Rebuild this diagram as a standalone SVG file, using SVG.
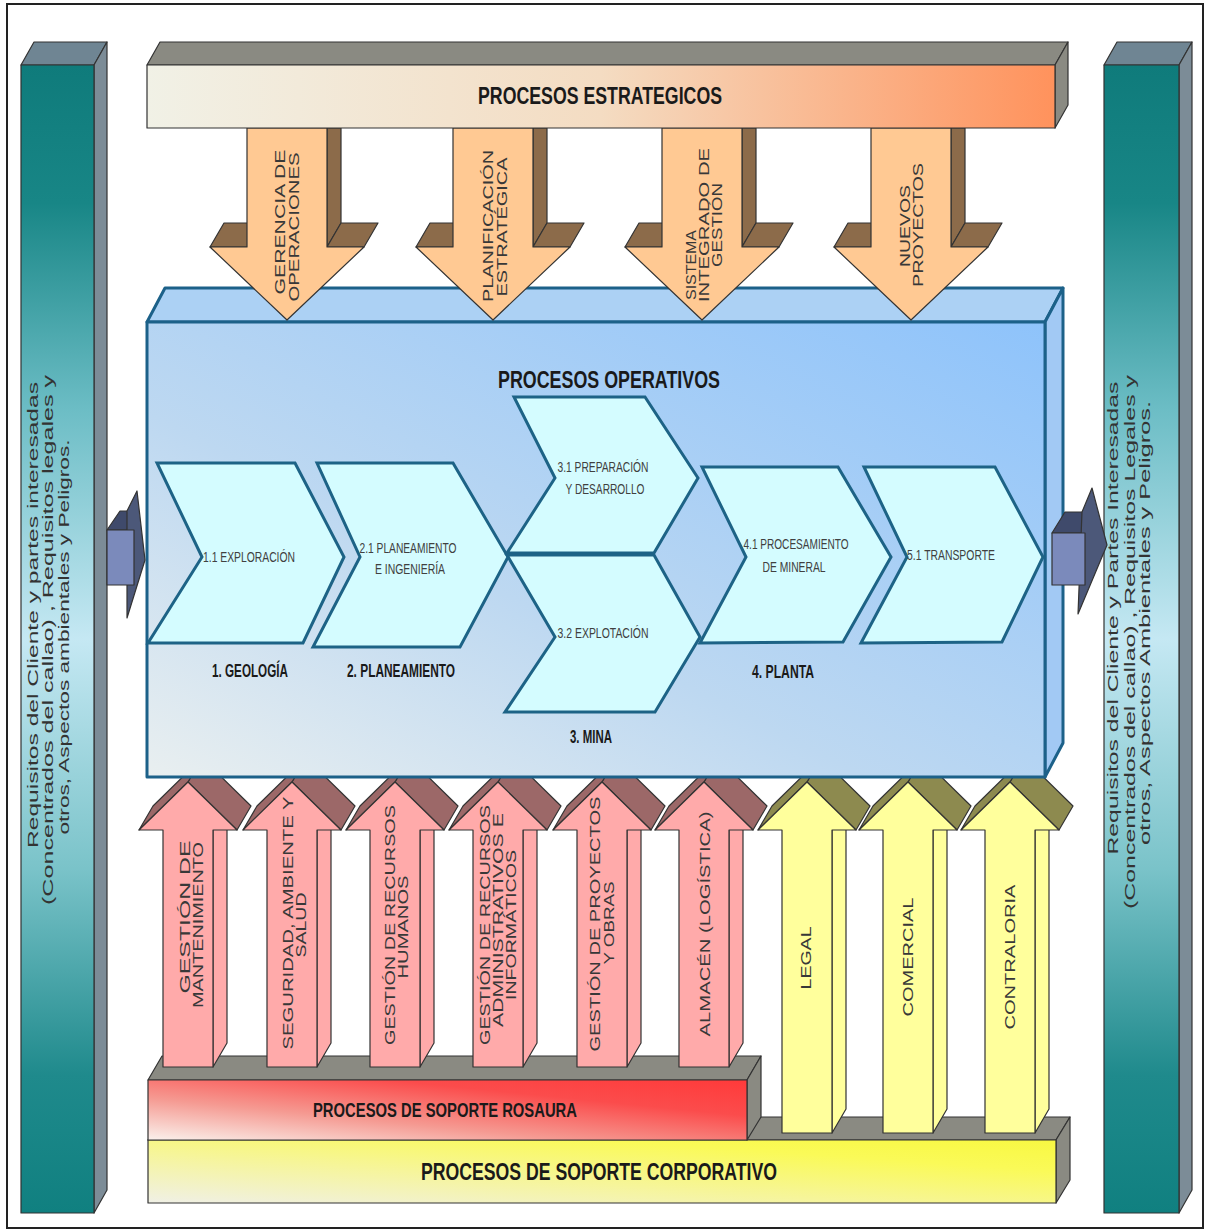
<svg xmlns="http://www.w3.org/2000/svg" width="1209" height="1232" viewBox="0 0 1209 1232">
<defs>
<linearGradient id="gTeal" x1="0" y1="0" x2="0" y2="1">
<stop offset="0" stop-color="#0f7b7b"/><stop offset="0.12" stop-color="#188686"/><stop offset="0.3" stop-color="#6cbdc5"/><stop offset="0.5" stop-color="#c5e8f3"/><stop offset="0.7" stop-color="#7ac3c9"/><stop offset="0.88" stop-color="#1f8a8c"/><stop offset="1" stop-color="#108080"/>
</linearGradient>
<linearGradient id="gTop" x1="0" y1="0" x2="1" y2="0">
<stop offset="0" stop-color="#f1f1e6"/><stop offset="0.5" stop-color="#f4dcc2"/><stop offset="1" stop-color="#ff925c"/>
</linearGradient>
<linearGradient id="gBox" x1="0" y1="1" x2="1" y2="0">
<stop offset="0" stop-color="#e9eff0"/><stop offset="0.4" stop-color="#bdd8f1"/><stop offset="1" stop-color="#8ec3fb"/>
</linearGradient>
<linearGradient id="gRosa" x1="0" y1="1" x2="1" y2="0">
<stop offset="0" stop-color="#faf1ec"/><stop offset="0.35" stop-color="#f59a92"/><stop offset="0.7" stop-color="#fb4c4c"/><stop offset="1" stop-color="#ff3a3a"/>
</linearGradient>
<linearGradient id="gCorp" x1="0" y1="1" x2="1" y2="0">
<stop offset="0" stop-color="#f0f0e6"/><stop offset="0.4" stop-color="#f6f59a"/><stop offset="0.75" stop-color="#fafa58"/><stop offset="1" stop-color="#f8f842"/>
</linearGradient>
<style>
.frame{fill:#ffffff;stroke:#222;stroke-width:2}
.edge{stroke:#333;stroke-width:1.2;stroke-linejoin:round}
.barside{fill:#7c8c97}
.bartop{fill:#6f8593}
.graytop{fill:#8a8a82}
.ofront{fill:#ffc993}
.oface{fill:#8c6b4a}
.pfront{fill:#ffaaaa}
.pface{fill:#9c6868}
.yfront{fill:#ffff9c}
.yface{fill:#8d8a4f}
.box{stroke:#1c6189;stroke-width:3;stroke-linejoin:round}
.chev{fill:#d4fcff;stroke:#1d6386;stroke-width:3;stroke-linejoin:miter}
.head{font-family:"Liberation Sans Narrow","Liberation Sans",Arial,sans-serif;font-weight:bold;fill:#1a1a1a;text-anchor:middle}
.ctext{font-family:"Liberation Sans Narrow","Liberation Sans",Arial,sans-serif;font-size:15.5px;fill:#404040;text-anchor:middle}
.vtext{font-family:"Liberation Sans",Arial,sans-serif;font-size:14px;fill:#383838;text-anchor:middle}
.stext{font-family:"Liberation Sans",Arial,sans-serif;font-size:15px;fill:#333333;text-anchor:middle}
</style>
</defs>

<rect class="frame" x="7" y="4" width="1196" height="1224"/>

<g id="left-bar">
<polygon class="bartop edge" points="21,65 34,42 107,42 94,65"/>
<polygon class="barside edge" points="94,65 107,42 107,1190 94,1213"/>
<rect class="edge" x="21" y="65" width="73" height="1148" fill="url(#gTeal)"/>
<text class="stext" transform="translate(38,615) rotate(-90)" textLength="466" lengthAdjust="spacingAndGlyphs">Requisitos del Cliente y partes interesadas</text>
<text class="stext" transform="translate(53,640) rotate(-90)" textLength="530" lengthAdjust="spacingAndGlyphs">(Concentrados del callao) , Requisitos legales y</text>
<text class="stext" transform="translate(69,637) rotate(-90)" textLength="395" lengthAdjust="spacingAndGlyphs">otros, Aspectos ambientales y Peligros.</text>
</g>

<g id="right-bar">
<polygon class="bartop edge" points="1104,65 1117,42 1192,42 1179,65"/>
<polygon class="barside edge" points="1179,65 1192,42 1192,1190 1179,1213"/>
<rect class="edge" x="1104" y="65" width="75" height="1148" fill="url(#gTeal)"/>
<text class="stext" transform="translate(1118,618) rotate(-90)" textLength="473" lengthAdjust="spacingAndGlyphs">Requisitos del Cliente y Partes Interesadas</text>
<text class="stext" transform="translate(1135,642) rotate(-90)" textLength="534" lengthAdjust="spacingAndGlyphs">(Concentrados del callao) , Requisitos Legales y</text>
<text class="stext" transform="translate(1150,623) rotate(-90)" textLength="444" lengthAdjust="spacingAndGlyphs">otros, Aspectos Ambientales y Peligros.</text>
</g>

<g id="soporte-corporativo">
<polygon class="graytop edge" points="148,1140 162,1117 1070,1117 1056,1140"/>
<polygon class="graytop edge" points="1056,1140 1070,1117 1070,1180 1056,1203"/>
<rect class="edge" x="148" y="1140" width="908" height="63" fill="url(#gCorp)"/>
<text class="head" x="599" y="1180" font-size="24" textLength="356" lengthAdjust="spacingAndGlyphs">PROCESOS DE SOPORTE CORPORATIVO</text>
</g>

<g id="soporte-rosaura">
<polygon class="graytop edge" points="148,1080 162,1056 761,1056 747,1080"/>
<polygon class="graytop edge" points="747,1080 761,1056 761,1117 747,1140"/>
<rect class="edge" x="148" y="1080" width="599" height="60" fill="url(#gRosa)"/>
<text class="head" x="445" y="1117" font-size="21" textLength="264" lengthAdjust="spacingAndGlyphs">PROCESOS DE SOPORTE ROSAURA</text>
</g>

<g id="connectors">
<g id="sup-mantenimiento">
<polygon class="pfront edge" points="213,1067 227,1043 227,806 213,830"/>
<polygon class="pface edge" points="237,830 188,782 202,758 251,806"/>
<polygon class="pface edge" points="139,830 188,782 202,758 153,806"/>
<polygon class="pfront edge" points="163,1067 163,830 139,830 188,782 237,830 213,830 213,1067"/>
<text class="vtext" transform="translate(190,917) rotate(-90)" textLength="153" lengthAdjust="spacingAndGlyphs">GESTIÓN DE</text>
<text class="vtext" transform="translate(203,925) rotate(-90)" textLength="166" lengthAdjust="spacingAndGlyphs">MANTENIMIENTO</text>
</g>
<g id="sup-seguridad">
<polygon class="pfront edge" points="317,1067 331,1043 331,806 317,830"/>
<polygon class="pface edge" points="341,830 292,782 306,758 355,806"/>
<polygon class="pface edge" points="243,830 292,782 306,758 257,806"/>
<polygon class="pfront edge" points="267,1067 267,830 243,830 292,782 341,830 317,830 317,1067"/>
<text class="vtext" transform="translate(293,923) rotate(-90)" textLength="253" lengthAdjust="spacingAndGlyphs">SEGURIDAD, AMBIENTE Y</text>
<text class="vtext" transform="translate(306,925) rotate(-90)" textLength="65" lengthAdjust="spacingAndGlyphs">SALUD</text>
</g>
<g id="sup-rrhh">
<polygon class="pfront edge" points="420,1067 434,1043 434,806 420,830"/>
<polygon class="pface edge" points="444,830 395,782 409,758 458,806"/>
<polygon class="pface edge" points="346,830 395,782 409,758 360,806"/>
<polygon class="pfront edge" points="370,1067 370,830 346,830 395,782 444,830 420,830 420,1067"/>
<text class="vtext" transform="translate(395,925) rotate(-90)" textLength="240" lengthAdjust="spacingAndGlyphs">GESTIÓN DE RECURSOS</text>
<text class="vtext" transform="translate(408,927) rotate(-90)" textLength="103" lengthAdjust="spacingAndGlyphs">HUMANOS</text>
</g>
<g id="sup-admin">
<polygon class="pfront edge" points="523,1067 537,1043 537,806 523,830"/>
<polygon class="pface edge" points="547,830 498,782 512,758 561,806"/>
<polygon class="pface edge" points="449,830 498,782 512,758 463,806"/>
<polygon class="pfront edge" points="473,1067 473,830 449,830 498,782 547,830 523,830 523,1067"/>
<text class="vtext" transform="translate(490,925) rotate(-90)" textLength="240" lengthAdjust="spacingAndGlyphs">GESTIÓN DE RECURSOS</text>
<text class="vtext" transform="translate(503,920) rotate(-90)" textLength="214" lengthAdjust="spacingAndGlyphs">ADMINISTRATIVOS E</text>
<text class="vtext" transform="translate(516,925) rotate(-90)" textLength="150" lengthAdjust="spacingAndGlyphs">INFORMÁTICOS</text>
</g>
<g id="sup-proyectos">
<polygon class="pfront edge" points="627,1067 641,1043 641,806 627,830"/>
<polygon class="pface edge" points="651,830 602,782 616,758 665,806"/>
<polygon class="pface edge" points="553,830 602,782 616,758 567,806"/>
<polygon class="pfront edge" points="577,1067 577,830 553,830 602,782 651,830 627,830 627,1067"/>
<text class="vtext" transform="translate(600,924) rotate(-90)" textLength="255" lengthAdjust="spacingAndGlyphs">GESTIÓN DE PROYECTOS</text>
<text class="vtext" transform="translate(614,923) rotate(-90)" textLength="83" lengthAdjust="spacingAndGlyphs">Y OBRAS</text>
</g>
<g id="sup-almacen">
<polygon class="pfront edge" points="729,1067 743,1043 743,806 729,830"/>
<polygon class="pface edge" points="753,830 704,782 718,758 767,806"/>
<polygon class="pface edge" points="655,830 704,782 718,758 669,806"/>
<polygon class="pfront edge" points="679,1067 679,830 655,830 704,782 753,830 729,830 729,1067"/>
<text class="vtext" transform="translate(710,924) rotate(-90)" textLength="225" lengthAdjust="spacingAndGlyphs">ALMACÉN (LOGÍSTICA)</text>
</g>
<g id="sup-legal">
<polygon class="yfront edge" points="832,1133 846,1109 846,806 832,830"/>
<polygon class="yface edge" points="856,830 807,782 821,758 870,806"/>
<polygon class="yface edge" points="758,830 807,782 821,758 772,806"/>
<polygon class="yfront edge" points="782,1133 782,830 758,830 807,782 856,830 832,830 832,1133"/>
<text class="vtext" transform="translate(811,958) rotate(-90)" textLength="63" lengthAdjust="spacingAndGlyphs">LEGAL</text>
</g>
<g id="sup-comercial">
<polygon class="yfront edge" points="933,1133 947,1109 947,806 933,830"/>
<polygon class="yface edge" points="957,830 908,782 922,758 971,806"/>
<polygon class="yface edge" points="859,830 908,782 922,758 873,806"/>
<polygon class="yfront edge" points="883,1133 883,830 859,830 908,782 957,830 933,830 933,1133"/>
<text class="vtext" transform="translate(913,957) rotate(-90)" textLength="119" lengthAdjust="spacingAndGlyphs">COMERCIAL</text>
</g>
<g id="sup-contraloria">
<polygon class="yfront edge" points="1035,1133 1049,1109 1049,806 1035,830"/>
<polygon class="yface edge" points="1059,830 1010,782 1024,758 1073,806"/>
<polygon class="yface edge" points="961,830 1010,782 1024,758 975,806"/>
<polygon class="yfront edge" points="985,1133 985,830 961,830 1010,782 1059,830 1035,830 1035,1133"/>
<text class="vtext" transform="translate(1015,957) rotate(-90)" textLength="145" lengthAdjust="spacingAndGlyphs">CONTRALORIA</text>
</g>
</g>

<g id="procesos-operativos">
<polygon class="box" fill="#acd1f4" points="147,322 165,288 1063,288 1045,322"/>
<polygon class="box" fill="#a2c9f4" points="1045,322 1063,288 1063,743 1045,777"/>
<rect class="box" x="147" y="322" width="898" height="455" fill="url(#gBox)"/>
<text class="head" x="609" y="388" font-size="23" textLength="222" lengthAdjust="spacingAndGlyphs">PROCESOS OPERATIVOS</text>
</g>

<g id="estr-arrows">
<g id="estr-gerencia">
<polygon class="oface edge" points="327,128 341,128 341,223 327,247"/>
<polygon class="oface edge" points="327,247 364,247 378,223 341,223"/>
<polygon class="oface edge" points="210,247 247,247 261,223 224,223"/>
<polygon class="ofront edge" points="247,128 327,128 327,247 364,247 287,320 210,247 247,247"/>
<text class="vtext" font-size="15" transform="translate(285,222) rotate(-90)" textLength="145" lengthAdjust="spacingAndGlyphs">GERENCIA DE</text>
<text class="vtext" font-size="15" transform="translate(298.5,227) rotate(-90)" textLength="149" lengthAdjust="spacingAndGlyphs">OPERACIONES</text>
</g>
<g id="estr-planificacion">
<polygon class="oface edge" points="533,128 547,128 547,223 533,247"/>
<polygon class="oface edge" points="533,247 570,247 584,223 547,223"/>
<polygon class="oface edge" points="416,247 453,247 467,223 430,223"/>
<polygon class="ofront edge" points="453,128 533,128 533,247 570,247 493,320 416,247 453,247"/>
<text class="vtext" font-size="15" transform="translate(493,226) rotate(-90)" textLength="152" lengthAdjust="spacingAndGlyphs">PLANIFICACIÓN</text>
<text class="vtext" font-size="15" transform="translate(507,227) rotate(-90)" textLength="139" lengthAdjust="spacingAndGlyphs">ESTRATÉGICA</text>
</g>
<g id="estr-sistema">
<polygon class="oface edge" points="742,128 756,128 756,223 742,247"/>
<polygon class="oface edge" points="742,247 779,247 793,223 756,223"/>
<polygon class="oface edge" points="625,247 662,247 676,223 639,223"/>
<polygon class="ofront edge" points="662,128 742,128 742,247 779,247 702,320 625,247 662,247"/>
<text class="vtext" font-size="15" transform="translate(696,265) rotate(-90)" textLength="70" lengthAdjust="spacingAndGlyphs">SISTEMA</text>
<text class="vtext" font-size="15" transform="translate(709,225) rotate(-90)" textLength="154" lengthAdjust="spacingAndGlyphs">INTEGRADO DE</text>
<text class="vtext" font-size="15" transform="translate(722,225) rotate(-90)" textLength="84" lengthAdjust="spacingAndGlyphs">GESTIÓN</text>
</g>
<g id="estr-nuevos">
<polygon class="oface edge" points="951,128 965,128 965,223 951,247"/>
<polygon class="oface edge" points="951,247 988,247 1002,223 965,223"/>
<polygon class="oface edge" points="834,247 871,247 885,223 848,223"/>
<polygon class="ofront edge" points="871,128 951,128 951,247 988,247 911,320 834,247 871,247"/>
<text class="vtext" font-size="15" transform="translate(910,226) rotate(-90)" textLength="82" lengthAdjust="spacingAndGlyphs">NUEVOS</text>
<text class="vtext" font-size="15" transform="translate(923,225) rotate(-90)" textLength="124" lengthAdjust="spacingAndGlyphs">PROYECTOS</text>
</g>
</g>

<g id="procesos-estrategicos">
<polygon class="graytop edge" points="147,65 160,42 1068,42 1055,65"/>
<polygon class="graytop edge" points="1055,65 1068,42 1068,105 1055,128"/>
<rect class="edge" x="147" y="65" width="908" height="63" fill="url(#gTop)"/>
<text class="head" x="600" y="104" font-size="23" textLength="244" lengthAdjust="spacingAndGlyphs">PROCESOS ESTRATEGICOS</text>
</g>

<g id="geologia">
<polygon class="chev" points="157,463 295,463 344,557 303,643 148,643 202,557"/>
<text class="ctext" x="249" y="562" textLength="92" lengthAdjust="spacingAndGlyphs">1.1 EXPLORACIÓN</text>
<text class="head" x="250" y="677" font-size="18" textLength="76" lengthAdjust="spacingAndGlyphs">1. GEOLOGÍA</text>
</g>
<g id="planeamiento">
<polygon class="chev" points="317,463 453,463 508,557 460,647 313,647 360,557"/>
<text class="ctext" x="408" y="553" textLength="97" lengthAdjust="spacingAndGlyphs">2.1 PLANEAMIENTO</text>
<text class="ctext" x="410" y="574" textLength="70" lengthAdjust="spacingAndGlyphs">E INGENIERÍA</text>
<text class="head" x="401" y="677" font-size="18" textLength="108" lengthAdjust="spacingAndGlyphs">2. PLANEAMIENTO</text>
</g>
<g id="mina">
<polygon class="chev" points="514,397 645,397 698,478 654,553 507,553 555,478"/>
<text class="ctext" x="603" y="472" textLength="91" lengthAdjust="spacingAndGlyphs">3.1 PREPARACIÓN</text>
<text class="ctext" x="605" y="494" textLength="79" lengthAdjust="spacingAndGlyphs">Y DESARROLLO</text>
<polygon class="chev" points="507,555 654,555 700,637 655,712 505,712 555,637"/>
<text class="ctext" x="603" y="638" textLength="91" lengthAdjust="spacingAndGlyphs">3.2 EXPLOTACIÓN</text>
<text class="head" x="591" y="743" font-size="18" textLength="42" lengthAdjust="spacingAndGlyphs">3. MINA</text>
</g>
<g id="planta">
<polygon class="chev" points="702,467 838,467 891,557 843,642 700,643 746,557"/>
<text class="ctext" x="796" y="549" textLength="105" lengthAdjust="spacingAndGlyphs">4.1 PROCESAMIENTO</text>
<text class="ctext" x="794" y="572" textLength="63" lengthAdjust="spacingAndGlyphs">DE MINERAL</text>
<text class="head" x="783" y="678" font-size="18" textLength="62" lengthAdjust="spacingAndGlyphs">4. PLANTA</text>
</g>
<g id="transporte">
<polygon class="chev" points="864,467 995,467 1043,557 1002,642 861,643 907,557"/>
<text class="ctext" x="951" y="560" textLength="88" lengthAdjust="spacingAndGlyphs">5.1 TRANSPORTE</text>
</g>

<g id="input-arrow">
<polygon class="edge" fill="#3f4a6b" points="107,530 120,511 134,511 127,530"/>
<polygon class="edge" fill="#4c5879" points="127,511 137,491 145,560 127,618"/>
<rect class="edge" x="107" y="530" width="27" height="55" fill="#7b8abb"/>
</g>
<g id="output-arrow">
<polygon class="edge" fill="#3f4a6b" points="1052,533 1065,512 1085,512 1085,533"/>
<polygon class="edge" fill="#4c5879" points="1082,512 1092,488 1107,545 1078,614"/>
<rect class="edge" x="1052" y="533" width="33" height="52" fill="#7b8abb"/>
</g>
</svg>
